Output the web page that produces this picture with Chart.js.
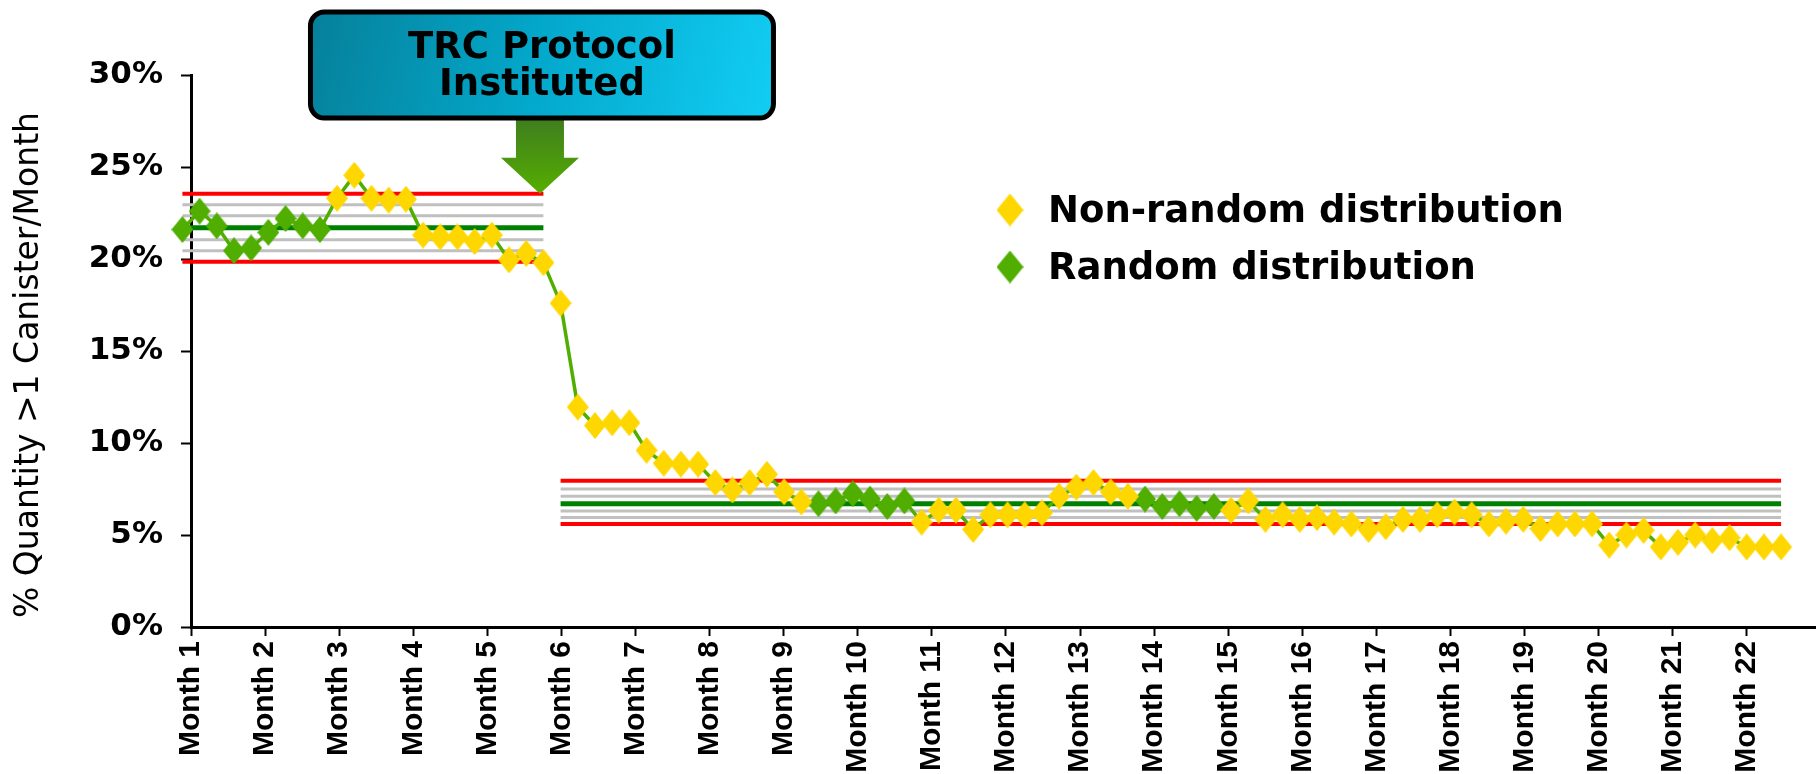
<!DOCTYPE html>
<html>
<head>
<meta charset="utf-8">
<title>TRC Protocol control chart</title>
<script src="https://cdn.jsdelivr.net/npm/chart.js@4.4.0/dist/chart.umd.min.js"></script>
<style>
  html, body { margin: 0; padding: 0; background: #fff; overflow: hidden; }
  .chart { position: relative; width: 1816px; height: 774px; }
  #spc { display: block; width: 1816px; height: 774px; }
</style>
</head>
<body>
<div class="chart"><canvas id="spc" width="1816" height="774"></canvas></div>
<script>
// month tick labels
const months = [
  'Month 1', 'Month 2', 'Month 3', 'Month 4', 'Month 5', 'Month 6', 'Month 7', 'Month 8',
  'Month 9', 'Month 10', 'Month 11', 'Month 12', 'Month 13', 'Month 14', 'Month 15',
  'Month 16', 'Month 17', 'Month 18', 'Month 19', 'Month 20', 'Month 21', 'Month 22'
]

// weekly % of quantity > 1 canister / month
const weeklyRate = [
  21.6, 22.6, 21.8, 20.45, 20.6, 21.45, 22.2, 21.8, 21.6, 23.3,
  24.55, 23.3, 23.2, 23.25, 21.3, 21.2, 21.2, 20.95, 21.3, 19.95,
  20.3, 19.8, 17.6, 11.95, 10.95, 11.1, 11.1, 9.6, 8.9, 8.85,
  8.85, 7.85, 7.45, 7.85, 8.3, 7.35, 6.8, 6.7, 6.85, 7.25,
  6.95, 6.55, 6.85, 5.7, 6.35, 6.35, 5.3, 6.1, 6.1, 6.1,
  6.2, 7.1, 7.6, 7.85, 7.35, 7.1, 6.95, 6.55, 6.7, 6.45,
  6.55, 6.35, 6.85, 5.85, 6.1, 5.85, 5.95, 5.7, 5.6, 5.3,
  5.45, 5.85, 5.85, 6.1, 6.25, 6.1, 5.6, 5.75, 5.85, 5.35,
  5.6, 5.6, 5.6, 4.45, 5.0, 5.25, 4.35, 4.6, 5.0, 4.7,
  4.85, 4.35, 4.35, 4.35
]

// 1 = random distribution week, 0 = non-random
const isRandom = [
  1, 1, 1, 1, 1, 1, 1, 1, 1, 0,
  0, 0, 0, 0, 0, 0, 0, 0, 0, 0,
  0, 0, 0, 0, 0, 0, 0, 0, 0, 0,
  0, 0, 0, 0, 0, 0, 0, 1, 1, 1,
  1, 1, 1, 0, 0, 0, 0, 0, 0, 0,
  0, 0, 0, 0, 0, 0, 1, 1, 1, 1,
  1, 0, 0, 0, 0, 0, 0, 0, 0, 0,
  0, 0, 0, 0, 0, 0, 0, 0, 0, 0,
  0, 0, 0, 0, 0, 0, 0, 0, 0, 0,
  0, 0, 0, 0
]

// control limits: LCL, -2s, -1s, CL, +1s, +2s, UCL
const beforeLimits = [19.85, 20.45, 21.05, 21.7, 22.35, 22.95, 23.55]
const afterLimits = [5.6, 5.95, 6.3, 6.7, 7.1, 7.5, 7.95]
// first / last week covered by each set of limits
const beforeWeeks = [0, 21]
const afterWeeks = [22, 93]

const seriesNames = ['Non-random distribution', 'Random distribution']
const yTitle = '% Quantity >1 Canister/Month'

// axis mapping (weeks on x)
const FIRST_MONTH_AT = 0.5
const WEEKS_PER_MONTH = 4.31
const X_MAX = 95.03

const limitStyle = [
  ['#ff0000', 4], ['#c0c0c0', 3], ['#c0c0c0', 3], ['#008000', 5],
  ['#c0c0c0', 3], ['#c0c0c0', 3], ['#ff0000', 4]
]

function diamond(color, w, h) {
  const c = document.createElement('canvas')
  c.width = w
  c.height = h
  const g = c.getContext('2d')
  g.fillStyle = color
  g.beginPath()
  g.moveTo(w / 2, 0)
  g.lineTo(w, h / 2)
  g.lineTo(w / 2, h)
  g.lineTo(0, h / 2)
  g.closePath()
  g.fill()
  return c
}

const YELLOW = '#ffd700'
const GREEN = '#4fae00'

const markerPoints = flag => weeklyRate
  .map((y, i) => ({ x: i, y }))
  .filter((p, i) => isRandom[i] === flag)

const limitSets = (limits, weeks) => limits.map((v, i) => ({
  data: weeks.map(x => ({ x, y: v })),
  borderColor: limitStyle[i][0],
  borderWidth: limitStyle[i][1],
  pointRadius: 0,
  clip: false,
}))

const datasets = [
  {
    label: seriesNames[0],
    data: markerPoints(0),
    showLine: false,
    pointStyle: diamond(YELLOW, 22, 27),
    legendIcon: diamond(YELLOW, 27, 33),
    pointRadius: 13,
    hoverRadius: 13,
    clip: false,
  },
  {
    label: seriesNames[1],
    data: markerPoints(1),
    showLine: false,
    pointStyle: diamond(GREEN, 22, 27),
    legendIcon: diamond(GREEN, 27, 33),
    pointRadius: 13,
    hoverRadius: 13,
    clip: false,
  },
  {
    data: weeklyRate.map((y, i) => ({ x: i, y })),
    borderColor: GREEN,
    borderWidth: 3.5,
    pointRadius: 0,
    clip: false,
  },
  ...limitSets(beforeLimits, beforeWeeks),
  ...limitSets(afterLimits, afterWeeks),
]

// chart.js keeps room for the marker size on the right; the plot runs to the edge here
const fullWidth = {
  id: 'fullWidth',
  afterLayout(chart) {
    const area = chart.chartArea
    const extra = chart.width - area.right
    if (extra <= 0) return
    area.right += extra
    area.width += extra
    const x = chart.scales.x
    x.right += extra
    x.width += extra
    x.configure()
  }
}

// y axis title, a little below the middle of the axis as in the original
const axisTitle = {
  id: 'axisTitle',
  afterDraw(chart, args, opts) {
    const { ctx, chartArea } = chart
    ctx.save()
    ctx.translate(opts.x, (chartArea.top + chartArea.bottom) / 2 + opts.shift)
    ctx.rotate(-Math.PI / 2)
    ctx.font = '33px "DejaVu Sans"'
    ctx.fillStyle = '#000'
    ctx.textAlign = 'center'
    ctx.textBaseline = 'middle'
    ctx.fillText(opts.text, 0, 0)
    ctx.restore()
  }
}

// legend drawn inside the plot
const innerLegend = {
  id: 'innerLegend',
  afterDraw(chart, args, opts) {
    const { ctx } = chart
    ctx.save()
    ctx.font = 'bold 37px "DejaVu Sans"'
    ctx.fillStyle = '#000'
    ctx.textBaseline = 'middle'
    chart.data.datasets.filter(d => d.label).forEach((d, i) => {
      const y = opts.top + i * opts.rowGap
      const icon = d.legendIcon
      ctx.drawImage(icon, opts.left - icon.width / 2, y - icon.height / 2)
      ctx.fillText(d.label, opts.left + opts.textGap, y + 2)
    })
    ctx.restore()
  }
}

// "TRC Protocol Instituted" call-out with arrow
const callout = {
  id: 'callout',
  afterDraw(chart, args, opts) {
    const { ctx, scales } = chart
    const tx = scales.x.getPixelForValue(opts.week)
    const ty = scales.y.getPixelForValue(opts.value)
    const headTop = ty - 36
    const boxW = 463, boxH = 106
    const bx = tx - boxW / 2 + 2, by = 12
    ctx.save()
    // arrow
    const ag = ctx.createLinearGradient(0, by + boxH, 0, ty)
    ag.addColorStop(0, '#3f7d20')
    ag.addColorStop(1, '#55ae00')
    ctx.fillStyle = ag
    ctx.beginPath()
    ctx.moveTo(tx - 24, by + boxH)
    ctx.lineTo(tx + 24, by + boxH)
    ctx.lineTo(tx + 24, headTop)
    ctx.lineTo(tx + 39, headTop)
    ctx.lineTo(tx, ty)
    ctx.lineTo(tx - 39, headTop)
    ctx.lineTo(tx - 24, headTop)
    ctx.closePath()
    ctx.fill()
    // box
    const bg = ctx.createLinearGradient(bx, by, bx + boxW, by + boxH)
    bg.addColorStop(0, '#06809a')
    bg.addColorStop(0.5, '#03a9cc')
    bg.addColorStop(1, '#12cdf3')
    ctx.beginPath()
    ctx.roundRect(bx, by, boxW, boxH, 14)
    ctx.fillStyle = bg
    ctx.fill()
    ctx.lineWidth = 5
    ctx.strokeStyle = '#000'
    ctx.stroke()
    ctx.fillStyle = '#000'
    ctx.font = 'bold 37px "DejaVu Sans"'
    ctx.textAlign = 'center'
    ctx.textBaseline = 'middle'
    opts.lines.forEach((t, i) => ctx.fillText(t, bx + boxW / 2, by + 36 + i * 37))
    ctx.restore()
  }
}

const chart = new Chart(document.getElementById('spc'), {
  type: 'line',
  data: { datasets },
  options: {
    responsive: false,
    maintainAspectRatio: false,
    animation: false,
    events: [],
    layout: { padding: { top: 75, right: 0, bottom: 0, left: 0 } },
    plugins: {
      legend: { display: false },
      tooltip: { enabled: false },
      axisTitle: { text: yTitle, x: 29, shift: 14 },
      innerLegend: { left: 1010, top: 210, rowGap: 57, textGap: 38 },
      callout: { week: 20.8, value: 23.55, lines: ['TRC Protocol', 'Instituted'] },
    },
    scales: {
      x: {
        type: 'linear',
        min: FIRST_MONTH_AT,
        max: X_MAX,
        afterBuildTicks: axis => {
          axis.ticks = months.map((m, i) => ({ value: FIRST_MONTH_AT + i * WEEKS_PER_MONTH }))
        },
        afterFit: scale => {
          scale.height = 147
          scale.paddingLeft = 0
          scale.paddingRight = 0
        },
        ticks: {
          autoSkip: false,
          minRotation: 90,
          maxRotation: 90,
          padding: 5,
          color: '#000',
          font: { family: '"Liberation Sans", Arial', weight: 'bold', size: 30 },
          callback: (v, i) => months[i],
        },
        grid: { drawOnChartArea: false, tickLength: 9, tickWidth: 2, tickColor: '#000' },
        border: { color: '#000', width: 3 },
      },
      y: {
        min: 0,
        max: 30,
        afterFit: scale => { scale.width = 191 },
        ticks: {
          stepSize: 5,
          padding: 18,
          color: '#000',
          font: { family: '"DejaVu Sans"', weight: 'bold', size: 31 },
          callback: v => v + '%',
        },
        grid: { drawOnChartArea: false, tickLength: 10, tickWidth: 2, tickColor: '#000' },
        border: { color: '#000', width: 3 },
      },
    },
  },
  plugins: [fullWidth, axisTitle, innerLegend, callout],
})
</script>
</body>
</html>
